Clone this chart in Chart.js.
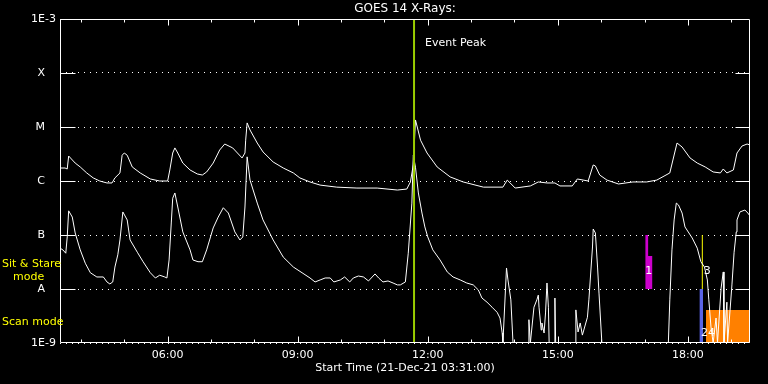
<!DOCTYPE html>
<html>
<head>
<meta charset="utf-8">
<title>GOES 14 X-Rays</title>
<style>
  html, body { margin: 0; padding: 0; background: #000; }
  #wrap { width: 768px; height: 384px; }
</style>
<script src="https://cdn.jsdelivr.net/npm/chart.js@4.4.1/dist/chart.umd.min.js"></script>
</head>
<body>
<div id="wrap"><canvas id="goesChart"></canvas></div>
<script>
// GOES 14 X-ray flux, 21-Dec-21
const startTime = '03:31';
const endTime = '19:26';
const hourLabels = ['06:00', '09:00', '12:00', '15:00', '18:00'];
const decades = [1e-9, 1e-8, 1e-7, 1e-6, 1e-5, 1e-4, 1e-3];
const decadeNames = ['1E-9', 'A', 'B', 'C', 'M', 'X', '1E-3'];

// long channel (1-8 A)
const longTimes = ['03:31', '03:38', '03:41', '03:43', '03:52', '03:59', '04:08', '04:17', '04:26', '04:36',
  '04:43', '04:47', '04:54', '04:57', '05:00', '05:04', '05:11', '05:22', '05:36', '05:49',
  '06:00', '06:03', '06:07', '06:10', '06:14', '06:21', '06:31', '06:41', '06:48', '06:54',
  '07:03', '07:12', '07:19', '07:30', '07:43', '07:47', '07:48', '07:50', '07:54', '08:04',
  '08:12', '08:26', '08:40', '08:54', '09:03', '09:17', '09:31', '09:54', '10:22', '10:50',
  '11:18', '11:31', '11:36', '11:40', '11:43', '11:50', '11:59', '12:13', '12:31', '12:49',
  '13:17', '13:44', '13:50', '13:54', '14:01', '14:22', '14:33', '14:45', '14:56', '15:03',
  '15:20', '15:27', '15:42', '15:49', '15:52', '15:58', '16:08', '16:24', '16:44', '17:03',
  '17:17', '17:35', '17:45', '17:52', '18:03', '18:13', '18:24', '18:35', '18:45', '18:49',
  '18:54', '19:03', '19:08', '19:15', '19:22', '19:26'];
const longFlux = [1.74e-6, 1.74e-6, 1.67e-6, 2.9e-6, 2.15e-6, 1.82e-6, 1.41e-6, 1.14e-6, 1.0e-6, 9.2e-7,
  9.2e-7, 1.14e-6, 1.41e-6, 3.0e-6, 3.3e-6, 3.0e-6, 1.82e-6, 1.41e-6, 1.09e-6, 1.0e-6,
  1.0e-6, 1.6e-6, 3.3e-6, 4.1e-6, 3.3e-6, 2.15e-6, 1.6e-6, 1.35e-6, 1.29e-6, 1.47e-6,
  2.15e-6, 3.75e-6, 4.84e-6, 4.1e-6, 2.67e-6, 3.3e-6, 5.7e-6, 1.19e-5, 8.8e-6, 5.05e-6,
  3.45e-6, 2.25e-6, 1.74e-6, 1.41e-6, 1.14e-6, 9.6e-7, 8.4e-7, 7.7e-7, 7.4e-7, 7.4e-7,
  6.8e-7, 7.1e-7, 9.6e-7, 2.0e-6, 1.35e-5, 5.7e-6, 3.3e-6, 1.82e-6, 1.19e-6, 9.6e-7,
  7.7e-7, 7.7e-7, 1.04e-6, 9.2e-7, 7.4e-7, 8.1e-7, 9.6e-7, 9.2e-7, 9.2e-7, 8.1e-7,
  8.1e-7, 1.09e-6, 1.0e-6, 1.98e-6, 1.9e-6, 1.29e-6, 1.04e-6, 8.8e-7, 9.6e-7, 9.6e-7,
  1.04e-6, 1.41e-6, 5.05e-6, 4.26e-6, 2.67e-6, 2.15e-6, 1.82e-6, 1.47e-6, 1.41e-6, 1.67e-6,
  1.41e-6, 1.6e-6, 3.3e-6, 4.45e-6, 4.84e-6, 4.64e-6];

// short channel (0.5-4 A); 1e-9 = below the plot floor
const shortTimes = ['03:31', '03:35', '03:39', '03:41', '03:43', '03:48', '03:52', '03:59', '04:06', '04:13',
  '04:22', '04:31', '04:36', '04:40', '04:44', '04:47', '04:51', '04:54', '04:58', '05:04',
  '05:08', '05:18', '05:26', '05:36', '05:43', '05:49', '05:56', '05:59', '06:02', '06:05',
  '06:07', '06:10', '06:14', '06:21', '06:31', '06:35', '06:42', '06:48', '06:54', '07:03',
  '07:10', '07:17', '07:24', '07:33', '07:40', '07:44', '07:47', '07:50', '07:54', '08:04',
  '08:12', '08:26', '08:40', '08:54', '09:06', '09:17', '09:24', '09:31', '09:38', '09:45',
  '09:50', '09:59', '10:05', '10:12', '10:17', '10:24', '10:31', '10:38', '10:47', '10:52',
  '10:58', '11:05', '11:12', '11:18', '11:22', '11:29', '11:33', '11:38', '11:40', '11:43',
  '11:47', '11:52', '11:56', '12:00', '12:07', '12:17', '12:27', '12:35', '12:45', '12:54',
  '13:03', '13:10', '13:15', '13:22', '13:29', '13:36', '13:40', '13:43', '13:44', '13:49',
  '13:51', '13:55', '13:58', '14:19', '14:20', '14:22', '14:27', '14:31', '14:33', '14:34',
  '14:37', '14:38', '14:41', '14:43', '14:45', '14:47', '14:48', '14:55', '14:56', '14:57',
  '15:24', '15:25', '15:28', '15:31', '15:34', '15:41', '15:43', '15:48', '15:49', '15:52',
  '15:55', '15:57', '16:01', '17:33', '17:35', '17:38', '17:41', '17:44', '17:47', '17:52',
  '17:56', '18:06', '18:13', '18:18', '18:23', '18:27', '18:29', '18:32', '18:35', '18:39',
  '18:41', '18:46', '18:49', '18:50', '18:54', '18:55', '19:01', '19:04', '19:07', '19:08',
  '19:12', '19:19', '19:23', '19:26'];
const shortFlux = [5.7e-8, 5.3e-8, 4.6e-8, 9.2e-8, 2.8e-7, 2.15e-7, 1.09e-7, 5.3e-8, 3.0e-8, 2.0e-8,
  1.67e-8, 1.67e-8, 1.35e-8, 1.24e-8, 1.35e-8, 2.55e-8, 4.3e-8, 8.1e-8, 2.67e-7, 1.9e-7,
  8.1e-8, 4.8e-8, 3.2e-8, 2.0e-8, 1.6e-8, 1.8e-8, 1.67e-8, 1.6e-8, 3.45e-8, 1.67e-7,
  4.8e-7, 6.0e-7, 3.3e-7, 1.14e-7, 5.3e-8, 3.45e-8, 3.2e-8, 3.2e-8, 5.3e-8, 1.35e-7,
  2.15e-7, 3.2e-7, 2.55e-7, 1.14e-7, 8.1e-8, 9.2e-8, 3.3e-7, 2.8e-6, 1.04e-6, 3.9e-7,
  1.9e-7, 8.1e-8, 3.9e-8, 2.55e-8, 2.0e-8, 1.6e-8, 1.35e-8, 1.47e-8, 1.6e-8, 1.6e-8,
  1.35e-8, 1.47e-8, 1.67e-8, 1.35e-8, 1.6e-8, 1.74e-8, 1.67e-8, 1.41e-8, 1.9e-8, 1.6e-8,
  1.35e-8, 1.41e-8, 1.29e-8, 1.19e-8, 1.19e-8, 1.35e-8, 4.6e-8, 3.9e-7, 3.0e-6, 1.8e-6,
  6.0e-7, 2.55e-7, 1.41e-7, 9.2e-8, 5.3e-8, 3.45e-8, 2.07e-8, 1.67e-8, 1.47e-8, 1.29e-8,
  1.19e-8, 9.6e-9, 6.8e-9, 5.7e-9, 4.6e-9, 3.7e-9, 2.9e-9, 1.53e-9, 1e-9, 2.45e-8,
  1.47e-8, 6.3e-9, 1e-9, 1e-9, 2.7e-9, 1e-9, 4.6e-9, 6.3e-9, 7.7e-9, 4.6e-9,
  1.74e-9, 2.35e-9, 1.53e-9, 3.6e-9, 1.29e-8, 4.6e-9, 1e-9, 1e-9, 6.8e-9, 1e-9,
  1e-9, 4.1e-9, 1.6e-9, 2.35e-9, 1.4e-9, 3.0e-9, 6.3e-9, 6.0e-8, 1.29e-7, 1.09e-7,
  2.55e-8, 8.4e-9, 1e-9, 1e-9, 6.3e-9, 5.3e-8, 1.9e-7, 3.9e-7, 3.6e-7, 2.55e-7,
  1.41e-7, 8.8e-8, 5.7e-8, 3.2e-8, 2.55e-8, 1.47e-8, 6.3e-9, 1.98e-9, 1e-9, 2.9e-9,
  1e-9, 1.04e-8, 2.07e-8, 1e-9, 5.7e-9, 1e-9, 1.19e-8, 4.8e-8, 1.14e-7, 1.9e-7,
  2.67e-7, 2.9e-7, 2.55e-7, 2.25e-7];

// event marker and observing-mode bars
const eventPeakTime = '11:41';
const sitStareTimes = ['17:01', '17:05', '17:11'];
const sitStareFlux = [1e-7, 4.1e-8, 4.1e-8];
const sitStareLineTimes = ['18:20', '18:20'];
const sitStareLineFlux = [1e-8, 1e-7];
const scanBlueTimes = ['18:16', '18:21'];
const scanBlueFlux = [1e-8, 1e-8];
const scanOrangeTimes = ['18:25', '19:26'];
const scanOrangeFlux = [4.1e-9, 4.1e-9];
const eventNumbers = ['1', '3', '24'];
const eventNumberTimes = ['17:06', '18:27', '18:28'];
const eventNumberFlux = [2.1e-8, 2.1e-8, 1.5e-9];

const toHours = s => {
  const [h, m] = s.split(':').map(Number);
  return h + m / 60;
};
const pts = (times, flux) => times.map((t, i) => ({ x: toHours(t), y: flux[i] }));
const fmtHour = h => String(h).padStart(2, '0') + ':00';

const FONT = "'DejaVu Sans', sans-serif";
Chart.defaults.font.family = FONT;
Chart.defaults.font.size = 11;
Chart.defaults.color = '#fff';

const goesFrame = {
  id: 'goesFrame',
  afterDatasetsDraw(chart) {
    const { ctx, chartArea: a, scales: { x, y } } = chart;
    const L = Math.round(a.left) + 0.5, R = Math.round(a.right) - 0.5;
    const T = Math.round(a.top) + 0.5, B = Math.round(a.bottom) - 0.5;
    ctx.save();
    ctx.strokeStyle = '#fff';
    ctx.lineWidth = 1;
    ctx.beginPath();
    ctx.rect(L, T, R - L, B - T);
    // hour ticks on top and bottom, longer every 3 hours
    for (let h = Math.ceil(x.min); h <= x.max; h++) {
      const px = Math.round(x.getPixelForValue(h)) + 0.5;
      const len = h % 3 === 0 ? 6 : 3;
      ctx.moveTo(px, T); ctx.lineTo(px, T + len);
      ctx.moveTo(px, B); ctx.lineTo(px, B - len);
    }
    // solid decade ticks at both sides
    decades.slice(1, -1).forEach(v => {
      const py = Math.round(y.getPixelForValue(v)) + 0.5;
      ctx.moveTo(L, py); ctx.lineTo(L + 15, py);
      ctx.moveTo(R - 14, py); ctx.lineTo(R, py);
    });
    ctx.stroke();

    ctx.font = '11px ' + FONT;
    ctx.fillStyle = '#fff';
    ctx.textBaseline = 'middle';
    ctx.textAlign = 'left';
    ctx.fillText('Event Peak', x.getPixelForValue(toHours(eventPeakTime)) + 11, a.top + 24);
    ctx.textAlign = 'center';
    eventNumbers.forEach((s, i) => {
      ctx.fillText(s, x.getPixelForValue(toHours(eventNumberTimes[i])), y.getPixelForValue(eventNumberFlux[i]));
    });
    ctx.fillStyle = '#ffff00';
    ctx.textAlign = 'left';
    ctx.fillText('Sit & Stare', 2, y.getPixelForValue(3.2e-8) + 2);
    ctx.fillText('mode', 13, y.getPixelForValue(1.8e-8) + 2);
    ctx.fillText('Scan mode', 2, y.getPixelForValue(2.7e-9) + 2);
    ctx.restore();
  }
};

const lineStyle = { pointRadius: 0, borderWidth: 1, tension: 0 };
new Chart(document.getElementById('goesChart'), {
  type: 'line',
  data: {
    datasets: [
      { data: pts([eventPeakTime, eventPeakTime], [1e-9, 1e-3]), borderColor: '#99cc00', ...lineStyle, borderWidth: 2 },
      { label: '1-8 A', data: pts(longTimes, longFlux), borderColor: '#fff', ...lineStyle },
      { label: '0.5-4 A', data: pts(shortTimes, shortFlux), borderColor: '#fff', ...lineStyle },
      { data: pts(sitStareLineTimes, sitStareLineFlux), borderColor: '#ffff00', ...lineStyle },
      { data: pts(scanBlueTimes, scanBlueFlux), borderColor: 'rgba(0,0,0,0)', backgroundColor: '#5a64e6', fill: 'start', ...lineStyle },
      { data: pts(sitStareTimes, sitStareFlux), borderColor: 'rgba(0,0,0,0)', backgroundColor: '#cc00cc', fill: { value: 1e-8 }, stepped: true, ...lineStyle },
      { data: pts(scanOrangeTimes, scanOrangeFlux), borderColor: 'rgba(0,0,0,0)', backgroundColor: '#ff8000', fill: 'start', ...lineStyle }
    ]
  },
  options: {
    responsive: true,
    maintainAspectRatio: false,
    animation: false,
    events: [],
    layout: { padding: { left: 0, right: 18, top: 0, bottom: 0 } },
    plugins: {
      legend: { display: false },
      tooltip: { enabled: false },
      title: {
        display: true, text: 'GOES 14 X-Rays:', color: '#fff', fullSize: false,
        font: { size: 12, weight: 'normal' }, padding: { top: 2, bottom: 2.6 }
      }
    },
    scales: {
      x: {
        type: 'linear',
        min: toHours(startTime),
        max: toHours(endTime),
        afterBuildTicks: s => { s.ticks = hourLabels.map(l => ({ value: toHours(l) })); },
        afterFit: s => { s.height = 41; },
        ticks: { callback: v => fmtHour(v), maxRotation: 0, autoSkip: false, padding: 6, color: '#fff' },
        grid: { display: false, drawTicks: false },
        border: { display: false },
        title: { display: true, text: 'Start Time (21-Dec-21 03:31:00)', color: '#fff', padding: { top: 0, bottom: 9 } }
      },
      y: {
        type: 'logarithmic',
        min: decades[0],
        max: decades[decades.length - 1],
        afterBuildTicks: s => { s.ticks = decades.map(v => ({ value: v })); },
        afterFit: s => { s.width = 60; },
        ticks: {
          callback: (v, i) => decadeNames[i].length === 1 ? decadeNames[i] + '\u2002\u2002' : decadeNames[i],
          padding: 4, color: '#fff', autoSkip: false
        },
        grid: { color: '#fff', drawTicks: false },
        border: { display: false, dash: [1, 5] }
      }
    }
  },
  plugins: [goesFrame]
});
</script>
</body>
</html>
